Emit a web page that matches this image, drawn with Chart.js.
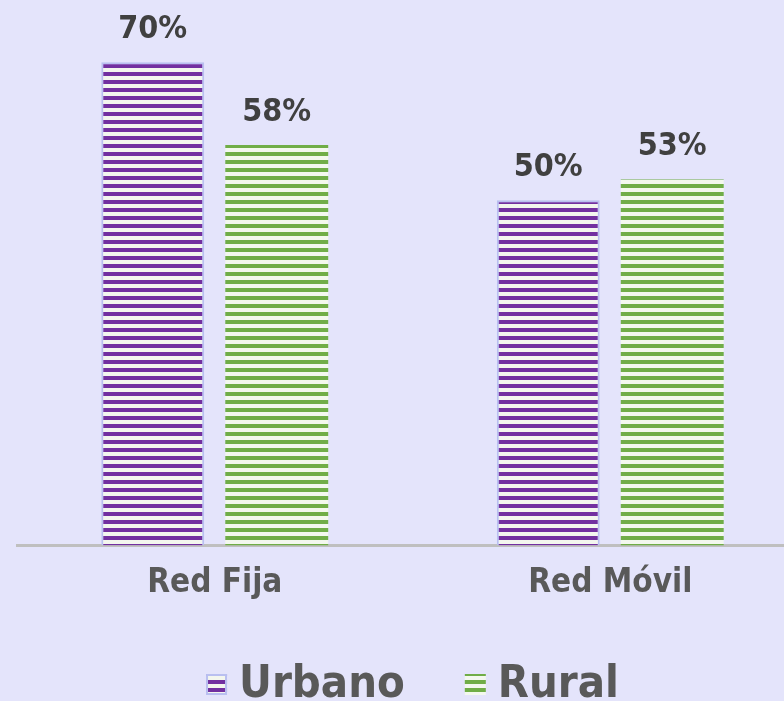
<!DOCTYPE html>
<html>
<head>
<meta charset="utf-8">
<script src="https://cdn.jsdelivr.net/npm/chart.js@4"></script>
<style>
  html, body { margin: 0; padding: 0; background: #e4e4fb; overflow: hidden; }
  #wrap { width: 784px; height: 701px; overflow: hidden; }
  #wrap canvas { display: block; }
</style>
</head>
<body>
<div id="wrap"><canvas id="chart" width="810" height="701"></canvas></div>
<script>
// chart data
const categories = ['Red Fija', 'Red Móvil'];
const seriesNames = ['Urbano', 'Rural'];
const urbanoValues = [70, 50];
const ruralValues = [58, 53];

const FONT = '"DejaVu Sans Condensed", "DejaVu Sans", sans-serif';

// horizontal stripe fill like the original bars
function stripes(color, light) {
  const c = document.createElement('canvas');
  c.width = 4;
  c.height = 8;
  const g = c.getContext('2d');
  g.fillStyle = light;
  g.fillRect(0, 0, 4, 8);
  g.fillStyle = color;
  g.fillRect(0, 0, 4, 4);
  return g.createPattern(c, 'repeat');
}

const ctx = document.getElementById('chart').getContext('2d');

// value labels above each bar
const barLabels = {
  id: 'barLabels',
  afterDatasetsDraw(chart) {
    const c = chart.ctx;
    c.save();
    c.font = 'bold 32px ' + FONT;
    c.fillStyle = '#404040';
    c.textAlign = 'center';
    c.textBaseline = 'alphabetic';
    chart.data.datasets.forEach((ds, i) => {
      chart.getDatasetMeta(i).data.forEach((bar, j) => {
        c.fillText(ds.data[j] + '%', bar.x, bar.y - 24);
      });
    });
    c.restore();
  }
};

// legend drawn by hand so the box/text gaps match the original
const bottomLegend = {
  id: 'bottomLegend',
  afterDraw(chart) {
    const c = chart.ctx;
    const box = 21, gap = 12, itemGap = 60;
    c.save();
    c.font = 'bold 45px ' + FONT;
    const items = chart.data.datasets.map(ds => ({ ds, w: c.measureText(ds.label).width }));
    const total = items.reduce((s, it) => s + box + gap + it.w, 0) + itemGap * (items.length - 1);
    let x = (chart.chartArea.left + chart.chartArea.right) / 2 - total / 2;
    const base = chart.height - 4;
    items.forEach(it => {
      c.fillStyle = it.ds.backgroundColor;
      c.fillRect(x, base - 23, box, box);
      if (it.ds.borderWidth) {
        c.strokeStyle = it.ds.borderColor;
        c.lineWidth = 2;
        c.strokeRect(x + 1, base - 22, box - 2, box - 2);
      }
      x += box + gap;
      c.fillStyle = '#595959';
      c.textAlign = 'left';
      c.textBaseline = 'alphabetic';
      c.fillText(it.ds.label, x, base);
      x += it.w + itemGap;
    });
    c.restore();
  }
};

new Chart(ctx, {
  type: 'bar',
  data: {
    labels: categories,
    datasets: [{
      label: seriesNames[0],
      data: urbanoValues,
      backgroundColor: stripes('#7230a0', '#f3f6ee'),
      borderColor: '#b9bff0',
      borderWidth: 2,
    }, {
      label: seriesNames[1],
      data: ruralValues,
      backgroundColor: stripes('#70ad47', '#f3f8ee'),
      borderColor: '#9fcb80',
      borderWidth: 0,
    }]
  },
  options: {
    responsive: false,
    animation: false,
    barPercentage: 0.83,
    categoryPercentage: 0.627,
    layout: { padding: { left: 17, right: 2, top: 0, bottom: 80 } },
    scales: {
      x: {
        grid: { display: false, drawTicks: false },
        border: { color: '#bfbfbf', width: 3 },
        ticks: { color: '#595959', font: { family: FONT, size: 33, weight: 'bold' }, padding: 18 },
      },
      y: {
        display: false,
        min: 0,
        max: 79,
      },
    },
    plugins: {
      legend: { display: false },
      tooltip: { enabled: false },
    },
  },
  plugins: [barLabels, bottomLegend],
});
</script>
</body>
</html>
